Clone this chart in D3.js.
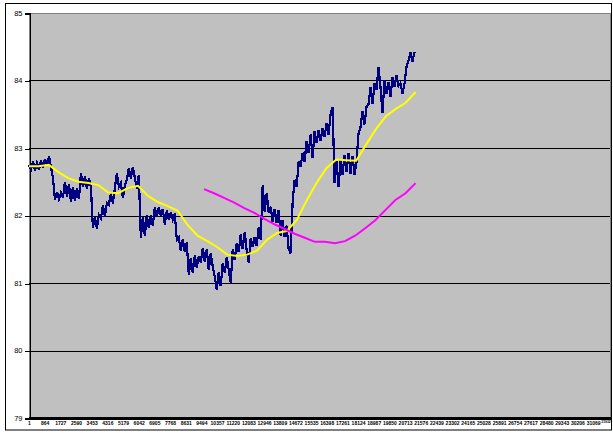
<!DOCTYPE html>
<html><head><meta charset="utf-8">
<script src="https://cdn.jsdelivr.net/npm/d3@7"></script>
<style>html,body{margin:0;padding:0;background:#fff;}svg{display:block;}</style>
</head><body>
<script>
// ---- data ----
const yTicks = [79, 80, 81, 82, 83, 84, 85];
const xLabels = [1, 864, 1727, 2590, 3453, 4316, 5179, 6042, 6905, 7768, 8631, 9494, 10357, 11220, 12083, 12946, 13809, 14672, 15535, 16398, 17261, 18124, 18987, 19850, 20713, 21576, 22439, 23302, 24165, 25028, 25891, 26754, 27617, 28480, 29343, 30206, 31069, 31932];
const categoryCount = 32000;

// price series (sampled every 110 observations, starting at observation 1)
const priceStart = 1, priceStep = 110;
const price = [
82.75,82.68,82.80,82.66,82.78,82.68,82.82,82.70,82.84,82.74,
82.88,82.72,82.56,82.23,82.35,82.24,82.34,82.26,82.50,82.28,
82.46,82.20,82.42,82.22,82.40,82.24,82.63,82.42,82.58,82.40,
82.55,82.42,81.81,81.98,81.80,82.01,81.96,82.15,81.98,82.19,
82.16,82.33,82.18,82.41,82.63,82.42,82.48,82.26,82.45,82.53,
82.70,82.55,82.72,82.56,82.40,82.60,81.67,81.98,81.70,82.01,
81.81,82.00,81.85,82.13,81.98,82.12,81.99,82.10,81.86,82.08,
81.93,82.05,81.94,82.03,81.64,81.67,81.48,81.65,81.46,81.60,
81.12,81.37,81.15,81.41,81.22,81.40,81.30,81.52,81.32,81.50,
81.19,81.44,81.24,81.10,80.90,81.16,80.95,81.30,81.15,81.38,
81.20,81.00,81.50,81.34,81.59,81.46,81.72,81.50,81.76,81.48,
81.30,81.66,81.53,81.68,81.55,81.83,81.64,82.45,82.05,82.33,
82.04,82.13,81.90,82.10,81.89,82.08,81.70,81.93,81.68,81.85,
81.50,81.44,82.20,82.53,82.42,82.80,82.72,82.93,82.80,83.10,
82.93,83.20,82.85,83.25,83.07,83.27,83.10,83.30,83.16,83.37,
83.20,83.50,83.61,82.48,82.80,82.42,82.82,82.60,82.90,82.65,
82.93,82.62,82.88,82.60,82.80,83.22,83.31,83.55,83.35,83.61,
83.65,83.90,83.65,83.96,83.86,84.20,83.90,83.52,84.01,83.80,
83.98,83.76,84.05,83.90,84.08,83.92,83.96,83.81,83.95,84.20,
84.30,84.42,84.28,84.42
];

// short moving average (every 546 observations, from observation 1)
const maShortStart = 1, maShortStep = 546;
const maShort = [
82.73,82.73,82.75,82.64,82.55,82.50,82.48,82.45,82.34,82.33,
82.41,82.44,82.29,82.20,82.14,82.07,81.86,81.70,81.62,81.53,
81.42,81.40,81.42,81.48,81.64,81.74,81.77,81.93,82.22,82.48,
82.70,82.83,82.82,82.81,83.05,83.28,83.47,83.58,83.67,83.83
];

// long moving average (every 555 observations, from observation 9638)
const maLongStart = 9638, maLongStep = 555;
const maLong = [
82.39,82.33,82.26,82.19,82.11,82.04,81.95,81.87,81.80,81.73,
81.67,81.61,81.61,81.59,81.62,81.70,81.81,81.93,82.08,82.23,
82.33,82.48
];

// ---- drawing ----
const W = 613, H = 433;
const plot = {left: 29, right: 610, top: 13, bottom: 418};

const svg = d3.select("body").append("svg").attr("width", W).attr("height", H);
svg.append("rect").attr("width", W).attr("height", H).attr("fill", "#fff");
// outer border
svg.append("rect").attr("x", 5.5).attr("y", 3.5).attr("width", 606).attr("height", 426.5)
  .attr("fill", "none").attr("stroke", "#000").attr("stroke-width", 1);

const x = d3.scaleLinear().domain([1, categoryCount]).range([plot.left, plot.right]);
const y = d3.scaleLinear().domain([79, 85]).range([plot.bottom, plot.top]);

// plot area
svg.append("rect").attr("x", plot.left).attr("y", plot.top)
  .attr("width", plot.right - plot.left).attr("height", plot.bottom - plot.top)
  .attr("fill", "#C0C0C0").attr("stroke", "#808080").attr("stroke-width", 1)
  .attr("shape-rendering", "crispEdges");

// gridlines
svg.append("g").selectAll("line").data(yTicks.filter(v => v > 79 && v < 85)).join("line")
  .attr("x1", plot.left).attr("x2", plot.right)
  .attr("y1", d => Math.round(y(d)) + 0.5).attr("y2", d => Math.round(y(d)) + 0.5)
  .attr("stroke", "#000").attr("stroke-width", 1).attr("shape-rendering", "crispEdges");

// y axis
const yAxis = d3.axisLeft(y).tickValues(yTicks).tickSize(5).tickPadding(2).tickFormat(d3.format("d"));
const gy = svg.append("g").attr("transform", `translate(${plot.left + 0.5},0)`).call(yAxis);
gy.select(".domain").attr("stroke", "#000").attr("shape-rendering", "crispEdges");
gy.selectAll(".tick line").attr("stroke", "#000").attr("shape-rendering", "crispEdges")
  .attr("transform", "translate(0,0.5)");
gy.selectAll("text").attr("font-family", "Liberation Sans, Arial, sans-serif")
  .attr("font-size", 7.5).attr("fill", "#000");

// x axis
const xAxis = d3.axisBottom(x).tickValues(xLabels).tickSize(0).tickPadding(3).tickFormat(d => String(d));
const gx = svg.append("g").attr("transform", `translate(0,${plot.bottom})`).call(xAxis);
gx.select(".domain").remove();
gx.selectAll("text").attr("font-family", "Liberation Sans, Arial, sans-serif")
  .attr("font-size", 5).attr("font-weight", "bold").attr("fill", "#000");
// last label shrunk to fit between its neighbour and the frame
const lastV = xLabels[xLabels.length - 1];
gx.selectAll("text").filter(d => d === lastV)
  .attr("text-anchor", "start")
  .attr("x", 600.8 - x(lastV))
  .attr("font-size", 3.4);
// dense category tick band
svg.append("rect").attr("x", plot.left).attr("y", plot.bottom - 1)
  .attr("width", plot.right - plot.left + 1).attr("height", 3).attr("fill", "#000");

// series
function pts(arr, start, step) { return arr.map((v, i) => [start + i * step, v]); }
const line = d3.line().x(d => x(d[0])).y(d => y(d[1]));

svg.append("path").datum(pts(price, priceStart, priceStep)).attr("d", line)
  .attr("fill", "none").attr("stroke", "#000080").attr("stroke-width", 2.2)
  .attr("stroke-linejoin", "miter").attr("shape-rendering", "crispEdges");
svg.append("path").datum(pts(maShort, maShortStart, maShortStep)).attr("d", line)
  .attr("fill", "none").attr("stroke", "#FFFF00").attr("stroke-width", 2);
svg.append("path").datum(pts(maLong, maLongStart, maLongStep)).attr("d", line)
  .attr("fill", "none").attr("stroke", "#FF00FF").attr("stroke-width", 2);
</script>
</body></html>
